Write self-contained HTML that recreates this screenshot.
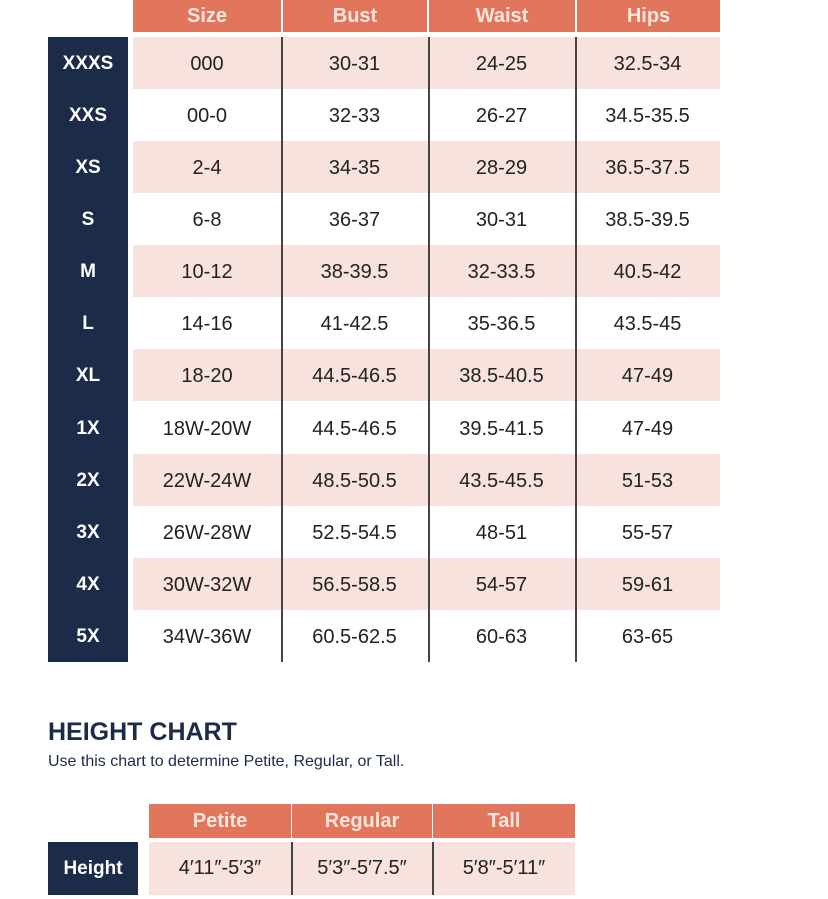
<!DOCTYPE html>
<html><head><style>
body{margin:0;width:828px;height:899px;background:#fff;position:relative;font-family:"Liberation Sans",sans-serif;overflow:hidden}
div{position:absolute;box-sizing:border-box}
.h{background:#e2765c;color:#fbe6dd;font-size:20px;font-weight:bold;text-align:center;line-height:32px;top:0;height:32px}
.n{background:#1b2b48}
.nl{color:#fff;font-weight:bold;font-size:19px;text-align:center;width:80px;left:48px}
.p{background:#f7e2dd;left:133px;width:587px;height:52px}
.c{font-size:20px;color:#222;text-align:center}
.v{width:1.5px;background:#444}
</style></head><body>
<div class="h" style="left:133px;width:148px">Size</div>
<div class="h" style="left:283px;width:144px">Bust</div>
<div class="h" style="left:429px;width:146px">Waist</div>
<div class="h" style="left:577px;width:143px">Hips</div>
<div class="n" style="left:48px;top:37px;width:80px;height:625px"></div>
<div id="rows"></div>
<div class="v" style="left:281px;top:37px;height:625px"></div>
<div class="v" style="left:428px;top:37px;height:625px"></div>
<div class="v" style="left:575px;top:37px;height:625px"></div>
<script>
var d=[["XXXS","000","30-31","24-25","32.5-34"],["XXS","00-0","32-33","26-27","34.5-35.5"],["XS","2-4","34-35","28-29","36.5-37.5"],["S","6-8","36-37","30-31","38.5-39.5"],["M","10-12","38-39.5","32-33.5","40.5-42"],["L","14-16","41-42.5","35-36.5","43.5-45"],["XL","18-20","44.5-46.5","38.5-40.5","47-49"],["1X","18W-20W","44.5-46.5","39.5-41.5","47-49"],["2X","22W-24W","48.5-50.5","43.5-45.5","51-53"],["3X","26W-28W","52.5-54.5","48-51","55-57"],["4X","30W-32W","56.5-58.5","54-57","59-61"],["5X","34W-36W","60.5-62.5","60-63","63-65"]];
var xs=[[133,148],[281,147],[428,147],[575,145]],h="";
d.forEach(function(r,i){var t=37+i*52.08;
if(i%2==0)h+='<div class="p" style="top:'+t+'px"></div>';
h+='<div class="nl" style="top:'+t+'px;line-height:54px">'+r[0]+'</div>';
for(var j=0;j<4;j++)h+='<div class="c" style="left:'+xs[j][0]+'px;width:'+xs[j][1]+'px;top:'+t+'px;line-height:54px">'+r[j+1]+'</div>';});
document.getElementById('rows').outerHTML=h;
</script>
<div style="left:48px;top:718px;font-size:25px;font-weight:bold;color:#1b2b48">HEIGHT CHART</div>
<div style="left:48px;top:753px;font-size:16px;color:#1b2b48">Use this chart to determine Petite, Regular, or Tall.</div>
<div class="h" style="top:804px;height:34px;line-height:34px;left:149px;width:142px">Petite</div>
<div class="h" style="top:804px;height:34px;line-height:34px;left:292px;width:140px">Regular</div>
<div class="h" style="top:804px;height:34px;line-height:34px;left:433px;width:142px">Tall</div>
<div class="n" style="left:48px;top:842px;width:90px;height:53px;color:#fff;font-weight:bold;font-size:19px;text-align:center;line-height:53px">Height</div>
<div style="background:#f7e2dd;left:149px;top:842px;width:426px;height:53px"></div>
<div class="c" style="left:149px;width:142px;top:842px;line-height:53px">4′11″-5′3″</div>
<div class="c" style="left:292px;width:140px;top:842px;line-height:53px">5′3″-5′7.5″</div>
<div class="c" style="left:433px;width:142px;top:842px;line-height:53px">5′8″-5′11″</div>
<div class="v" style="left:291px;top:842px;height:53px"></div>
<div class="v" style="left:432px;top:842px;height:53px"></div>
</body></html>
